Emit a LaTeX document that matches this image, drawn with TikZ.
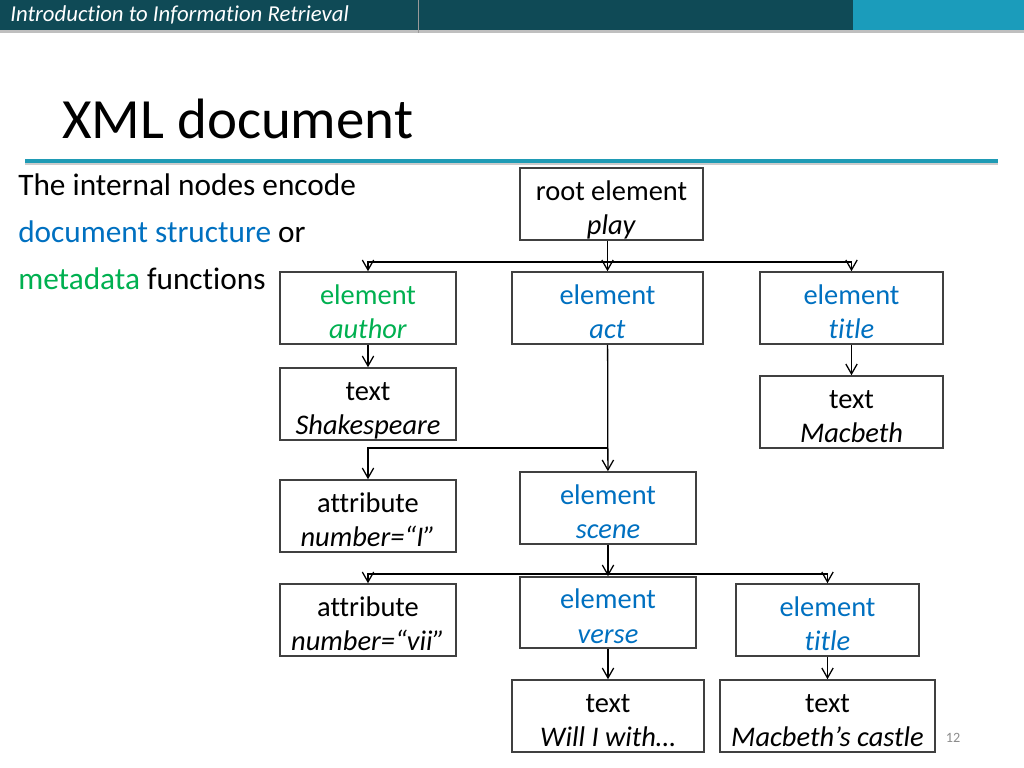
\documentclass[tikz,border=0pt]{standalone}
\usepackage{fontspec}
\setmainfont{Carlito}[Ligatures=NoCommon]
\usetikzlibrary{arrows.meta}
\definecolor{barteal}{HTML}{0F4A56}
\definecolor{barcyan}{HTML}{1B9CBB}
\definecolor{ruleteal}{HTML}{1F9BB5}
\definecolor{irgreen}{HTML}{00B050}
\definecolor{irblue}{HTML}{0070C0}
\def\px{0.703125pt}

\begin{document}
\begin{tikzpicture}[x=0.703125pt, y=-0.703125pt]
        \tikzstyle{box}=[draw=black!75, line width=1.1pt, inner sep=0pt, minimum width=176*\px, minimum height=72*\px, align=center, font=\fontsize{20}{24}\selectfont, text height=46pt, text depth=3pt]
        \tikzstyle{conn}=[line width=0.9pt, -{Straight Barb[length=7pt,width=8pt]}]
        \tikzstyle{bus}=[line width=0.9pt]
        \tikzstyle{body}=[anchor=west, font=\fontsize{22}{26}\selectfont, inner sep=0pt]
        \useasboundingbox (0,0) rectangle (1024,768);
        % header and title
        \fill[barteal] (0,0) rectangle (853,30);
        \fill[barcyan] (853,0) rectangle (1024,30);
        \fill[black!25] (0,30) rectangle (1024,33);
        \draw[black!40, line width=0.4pt] (418,0) -- (418,33);
        \node[anchor=base west, text=white, font=\fontsize{16}{18}\selectfont\itshape, inner sep=0pt] (header) at (10,22) {Introduction to Information Retrieval};
        \node[anchor=base west, font=\fontsize{40}{48}\selectfont, inner sep=0pt] (heading) at (62,139) {XML document};
        \fill[black!20] (25,162) rectangle (998,165);
        \fill[ruleteal] (25,159) rectangle (998,163);
        \node[body] (line1) at (18,185) {The internal nodes encode};
        \node[body] (line2) at (18,232) {\textcolor{irblue}{document structure} or};
        \node[body] (line3) at (18,279) {\textcolor{irgreen}{metadata} functions};
        % tree
        \node[box, minimum width=183*\px] (root) at (611.5,204) {root element\\\textit{play}};
        \node[box, text=irgreen] (author) at (368,308) {element\\\textit{author}};
        \node[box, text=irblue, minimum width=191*\px] (act) at (607.5,308) {element\\\textit{act}};
        \node[box, text=irblue, minimum width=183*\px] (title) at (851.5,308) {element\\\textit{title}};
        \node[box] (shakes) at (368,404) {text\\\textit{Shakespeare}};
        \node[box, minimum width=183*\px] (macbeth) at (851.5,412) {text\\\textit{Macbeth}};
        \node[box] (attrI) at (368,516) {attribute\\\textit{number=“I”}};
        \node[box, text=irblue] (scene) at (608,508) {element\\\textit{scene}};
        \node[box] (attrvii) at (368,620) {attribute\\\textit{number=“vii”}};
        \node[box, text=irblue, minimum height=71*\px] (verse) at (608,612.5) {element\\\textit{verse}};
        \node[box, text=irblue, minimum width=183*\px] (titleB) at (827.5,620) {element\\\textit{title}};
        \node[box, minimum width=192*\px] (will) at (608,716) {text\\\textit{Will I with…}};
        \node[box, minimum width=215*\px] (castle) at (827.5,716) {text\\\textit{Macbeth’s castle}};
        \node[text=black!45, font=\fontsize{10}{12}\selectfont] (pagenum) at (953,738) {12};
        \coordinate (j1) at (608,262);
        \coordinate (j2) at (608,448);
        \coordinate (j3) at (608,574);
        \draw[bus] (author.north |- j1) -- (title.north |- j1);
        \draw[conn] (root.south -| act.north) -- (act.north);
        \draw[conn] (j1) -| (author.north);
        \draw[conn] (j1) -| (title.north);
        \draw[conn] (author) -- (shakes);
        \draw[conn] (title) -- (macbeth);
        \draw[conn] (act) -- (scene);
        \draw[conn] (j2) -| (attrI.north);
        \draw[bus] (attrvii.north |- j3) -- (titleB.north |- j3);
        \draw[conn] (scene) -- (verse);
        \draw[conn] (j3) -| (attrvii.north);
        \draw[conn] (j3) -| (titleB.north);
        \draw[conn] (verse) -- (will);
        \draw[conn] (titleB) -- (castle);
    \end{tikzpicture}
\end{document}
